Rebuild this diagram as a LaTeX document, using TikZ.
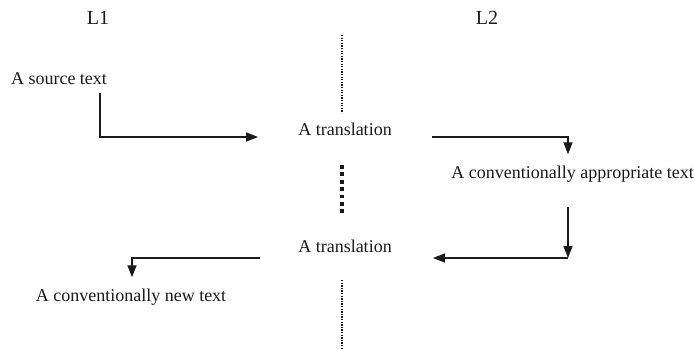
\documentclass[tikz,border=0pt]{standalone}
\usepackage{fontspec}
\setmainfont{Liberation Serif}
\usetikzlibrary{arrows.meta}
\definecolor{ink}{HTML}{1A1A1A}
\begin{document}
\begin{tikzpicture}[x=1pt,y=-1pt,
  txt/.style={inner sep=0pt, anchor=base, text=ink, font=\fontsize{18}{20}\selectfont},
  lab/.style={inner sep=0pt, anchor=base, text=ink, font=\fontsize{20}{22}\selectfont},
  arr/.style={draw=ink, line width=1.3pt, -{Triangle[length=12pt,width=9pt]}},
  thindots/.style={draw=ink, line width=1.2pt, dash pattern=on 1.3pt off 1.3pt},
  thickdots/.style={draw=ink, line width=3.8pt, dash pattern=on 3.8pt off 3.6pt}]
\useasboundingbox[fill=white] (0,0) rectangle (695,350);
% labels
\node[lab] (l1) at (98,25) {L1};
\node[lab] (l2) at (487,25) {L2};
% texts
\node[txt] (src) at (59,85) {A source text};
\node[txt] (tr1) at (345,135) {A translation};
\node[txt] (app) at (572.5,178) {A conventionally appropriate text};
\node[txt] (tr2) at (345,252) {A translation};
\node[txt] (new) at (131,301) {A conventionally new text};
% dividers
\coordinate (da) at (342,35);
\coordinate (db) at (342,113);
\coordinate (dc) at (342,165);
\coordinate (dd) at (342,216);
\coordinate (de) at (342,280);
\coordinate (df) at (342,350);
\draw[thindots] (da) -- (db);
\draw[thickdots] (dc) -- (dd);
\draw[thindots] (de) -- (df);
% connectors
\draw[arr] ([xshift=41pt,yshift=-8pt]src.south) |- ([xshift=-40pt,yshift=-2pt]tr1.base west);
\draw[arr] ([xshift=40pt,yshift=-2pt]tr1.base east) -| ([xshift=-4.5pt,yshift=11pt]app.north);
\coordinate (k1) at (568,258);
\draw[arr] ([xshift=-4.5pt,yshift=-25pt]app.south) -- (k1);
\draw[arr] (k1) -- ([xshift=41pt,yshift=-6pt]tr2.base east);
\draw[arr] ([xshift=-38pt,yshift=-6pt]tr2.base west) -| ([xshift=1pt,yshift=11pt]new.north);
\end{tikzpicture}
\end{document}
